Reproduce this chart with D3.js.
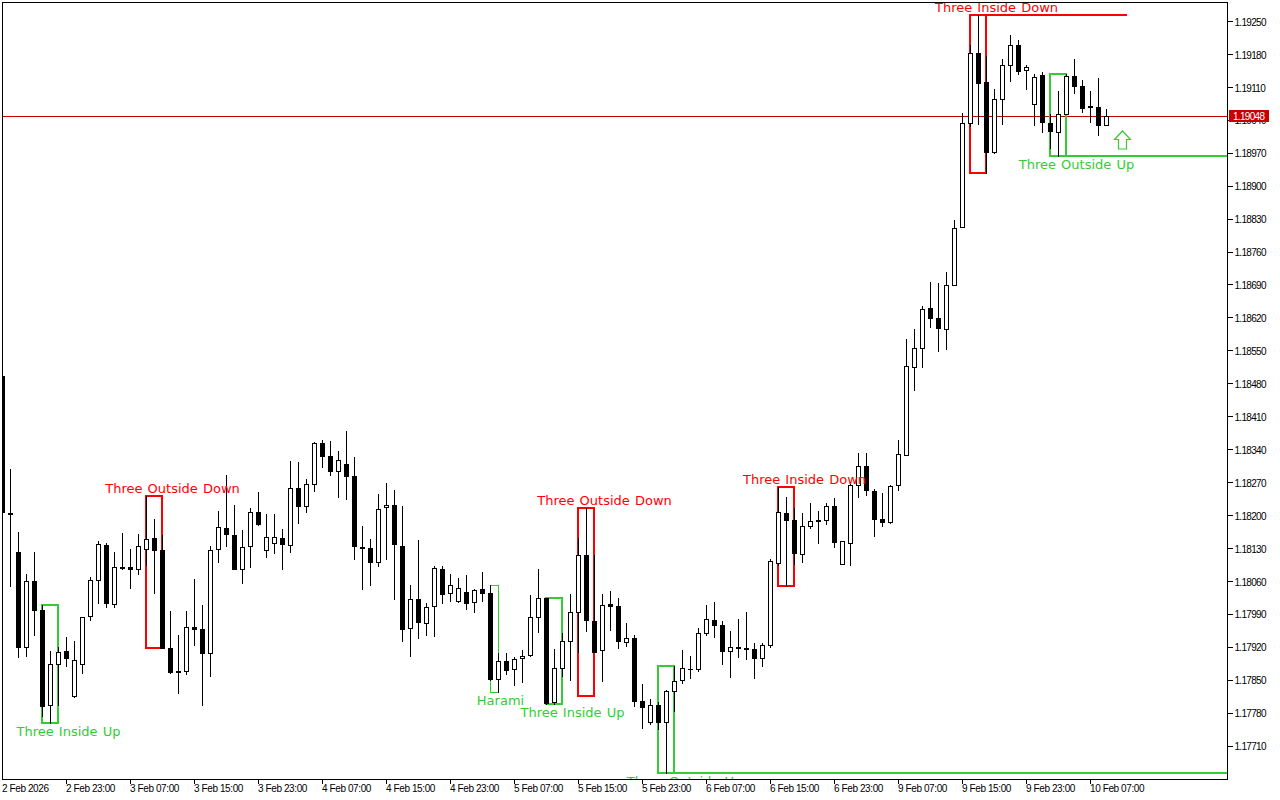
<!DOCTYPE html>
<html>
<head>
<meta charset="utf-8">
<style>
html,body{margin:0;padding:0;background:#fff;overflow:hidden}
svg{display:block}
.axis path,.axis line{stroke:#000;shape-rendering:crispEdges}
.axis text{fill:#000;font-family:"Liberation Sans",Arial,sans-serif;font-size:10px}
.axis.price text{letter-spacing:-0.7px}
.axis.time text{letter-spacing:-0.4px}
</style>
<script src="https://cdn.jsdelivr.net/npm/d3@7/dist/d3.min.js"></script>
</head>
<body>
<svg id="chart" width="1280" height="800"></svg>
<script>
const opens = [
1.18497,1.18205,1.18122,1.17920,1.18061,1.17999,1.17797,1.17884,1.17912,1.17816,
1.17884,1.17986,1.18063,1.18137,1.18012,1.18090,1.18090,1.18086,1.18129,1.18152,
1.18127,1.17918,1.17869,1.17869,1.17963,1.17959,1.17908,1.18129,1.18173,1.18158,
1.18086,1.18135,1.18207,1.18127,1.18141,1.18152,1.18137,1.18258,1.18220,1.18267,
1.18354,1.18326,1.18295,1.18309,1.18284,1.18133,1.18131,1.18101,1.18218,1.18222,
1.18135,1.17961,1.18022,1.17971,1.18007,1.18086,1.18035,1.18018,1.18037,1.18016,
1.18044,1.18035,1.17852,1.17891,1.17874,1.17897,1.17903,1.17984,1.18025,1.17803,
1.17876,1.17933,1.17995,1.18116,1.17976,1.17914,1.18012,1.18007,1.17931,1.17940,
1.17806,1.17761,1.17797,1.17761,1.17827,1.17850,1.17874,1.17874,1.17950,1.17978,
1.17967,1.17912,1.17920,1.17918,1.17916,1.17897,1.17925,1.18099,1.18205,1.18190,
1.18118,1.18178,1.18190,1.18190,1.18220,1.18097,1.18141,1.18265,1.18305,1.18252,
1.18192,1.18186,1.18265,1.18329,1.18516,1.18556,1.18641,1.18620,1.18596,1.18690,
1.18813,1.19034,1.19183,1.19121,1.18973,1.19085,1.19158,1.19200,1.19147,1.19075,
1.19136,1.19034,1.19015,1.19053,1.19134,1.19113,1.19070,1.19068,1.19030];
const highs = [
1.18497,1.18299,1.18165,1.18076,1.18122,1.18010,1.17912,1.17920,1.17942,1.17933,
1.17984,1.18069,1.18146,1.18141,1.18122,1.18163,1.18129,1.18161,1.18241,1.18192,
1.18158,1.17997,1.17946,1.17997,1.18065,1.18010,1.18135,1.18209,1.18286,1.18222,
1.18169,1.18216,1.18250,1.18203,1.18203,1.18171,1.18316,1.18314,1.18278,1.18356,
1.18360,1.18358,1.18337,1.18380,1.18324,1.18178,1.18150,1.18246,1.18269,1.18254,
1.18220,1.18052,1.18148,1.18014,1.18092,1.18092,1.18076,1.18067,1.18073,1.18044,
1.18080,1.18052,1.17908,1.17908,1.17899,1.17914,1.18031,1.18086,1.18025,1.17916,
1.17950,1.18033,1.18152,1.18216,1.18116,1.18033,1.18039,1.18025,1.17971,1.17946,
1.17842,1.17810,1.17803,1.17829,1.17880,1.17914,1.17901,1.17961,1.18010,1.18016,
1.17976,1.17954,1.17980,1.17995,1.17929,1.17929,1.18107,1.18261,1.18239,1.18216,
1.18205,1.18226,1.18209,1.18226,1.18237,1.18146,1.18267,1.18333,1.18333,1.18256,
1.18248,1.18265,1.18360,1.18575,1.18596,1.18645,1.18696,1.18694,1.18717,1.18828,
1.19055,1.19200,1.19264,1.19177,1.19107,1.19170,1.19221,1.19211,1.19158,1.19138,
1.19143,1.19053,1.19102,1.19138,1.19170,1.19126,1.19102,1.19130,1.19064];
const lows = [
1.18207,1.18050,1.17899,1.17901,1.17946,1.17774,1.17759,1.17797,1.17880,1.17814,
1.17865,1.17978,1.18014,1.18005,1.18005,1.18086,1.18046,1.18076,1.18095,1.18035,
1.17918,1.17865,1.17823,1.17863,1.17925,1.17797,1.17859,1.18101,1.18135,1.18086,
1.18056,1.18090,1.18180,1.18112,1.18120,1.18086,1.18122,1.18184,1.18207,1.18252,
1.18303,1.18286,1.18239,1.18235,1.18107,1.18044,1.18052,1.18092,1.18107,1.18022,
1.17933,1.17901,1.17940,1.17946,1.17944,1.18014,1.18018,1.18016,1.18001,1.17995,
1.18018,1.17850,1.17825,1.17863,1.17840,1.17846,1.17901,1.17952,1.17799,1.17799,
1.17859,1.17850,1.17910,1.17954,1.17910,1.17848,1.17957,1.17918,1.17922,1.17795,
1.17748,1.17757,1.17746,1.17653,1.17784,1.17844,1.17855,1.17869,1.17946,1.17942,
1.17884,1.17857,1.17899,1.17895,1.17855,1.17880,1.17920,1.18095,1.18050,1.18097,
1.18101,1.18173,1.18141,1.18182,1.18133,1.18097,1.18095,1.18239,1.18244,1.18156,
1.18178,1.18184,1.18254,1.18329,1.18467,1.18516,1.18601,1.18550,1.18554,1.18690,
1.18813,1.19028,1.19032,1.18928,1.18970,1.19032,1.19124,1.19138,1.19107,1.19030,
1.19015,1.18981,1.18964,1.19053,1.19098,1.19058,1.19036,1.19009,1.19030];
const closes = [
1.18207,1.18203,1.17920,1.18061,1.17999,1.17795,1.17884,1.17910,1.17897,1.17893,
1.17984,1.18063,1.18139,1.18014,1.18090,1.18088,1.18086,1.18135,1.18150,1.18127,
1.17918,1.17867,1.17867,1.17963,1.17959,1.17908,1.18127,1.18175,1.18161,1.18086,
1.18133,1.18207,1.18182,1.18154,1.18154,1.18139,1.18258,1.18220,1.18267,1.18354,
1.18326,1.18295,1.18318,1.18284,1.18135,1.18131,1.18101,1.18214,1.18222,1.18139,
1.17959,1.18022,1.17974,1.18005,1.18088,1.18033,1.18052,1.18046,1.18014,1.18042,
1.18035,1.17852,1.17891,1.17872,1.17895,1.17901,1.17984,1.18025,1.17801,1.17876,
1.17933,1.17995,1.18116,1.17978,1.17910,1.18010,1.18007,1.17933,1.17940,1.17806,
1.17793,1.17797,1.17761,1.17827,1.17848,1.17876,1.17874,1.17950,1.17980,1.17967,
1.17912,1.17920,1.17918,1.17916,1.17897,1.17925,1.18103,1.18207,1.18190,1.18120,
1.18178,1.18188,1.18188,1.18220,1.18144,1.18146,1.18265,1.18305,1.18254,1.18192,
1.18186,1.18263,1.18331,1.18518,1.18556,1.18639,1.18620,1.18598,1.18690,1.18811,
1.19034,1.19183,1.19119,1.18973,1.19085,1.19158,1.19200,1.19145,1.19153,1.19132,
1.19036,1.19017,1.19053,1.19134,1.19113,1.19066,1.19068,1.19030,1.19049];

const priceTicks = [1.1925,1.1918,1.1911,1.1904,1.1897,1.189,1.1883,1.1876,1.1869,1.1862,1.1855,1.1848,1.1841,1.1834,1.1827,1.182,1.1813,1.1806,1.1799,1.1792,1.1785,1.1778,1.1771];
const timeTickBars = [0,8,16,24,32,40,48,56,64,72,80,88,96,104,112,120,128,136];
const timeTickLabels = ["2 Feb 2026","2 Feb 23:00","3 Feb 07:00","3 Feb 15:00","3 Feb 23:00","4 Feb 07:00","4 Feb 15:00","4 Feb 23:00","5 Feb 07:00","5 Feb 15:00","5 Feb 23:00","6 Feb 07:00","6 Feb 15:00","6 Feb 23:00","9 Feb 07:00","9 Feb 15:00","9 Feb 23:00","10 Feb 07:00"];

const patternNames = ["Three Inside Up","Three Outside Down","Harami","Three Inside Up","Three Outside Down","Three Outside Up","Three Inside Down","Three Inside Down","Three Outside Up"];
const patternFirstBar = [5,18,61,68,72,82,97,121,131];
const patternLastBar = [7,20,62,70,74,84,99,123,133];
const patternHigh = [1.18010,1.18241,1.18052,1.18025,1.18216,1.17880,1.18261,1.19264,1.19138];
const patternLow = [1.17759,1.17918,1.17825,1.17799,1.17816,1.17653,1.18050,1.18928,1.18964];
const patternBullish = [true,false,true,true,false,true,false,false,true];

const levelPrices = [1.17653,1.19264,1.18964];
const levelFirstBar = [82,121,131];
const levelLastBar = [153,140.5,153];
const levelBullish = [true,false,true];

const bidPrice = 1.19048;
const signalBar = 140;
const signalPrice = 1.19017;

const GREEN = "#32cd32", RED = "#ff0000", BID = "#c80000";
const left = 2, right = 1227, top_ = 2, bottom = 779;
const svg = d3.select("#chart");

const x = d3.scaleLinear().domain([0,138]).range([2.5,1106.5]);
const y = d3.scaleLinear().domain([1.1925,1.1771]).range([21.5,746]);
const yr = p => Math.round(y(p));

svg.append("defs").append("clipPath").attr("id","plot").append("rect")
  .attr("x",left).attr("y",top_).attr("width",right-left).attr("height",bottom-top_);

const plot = svg.append("g").attr("clip-path","url(#plot)");

// bid line
plot.append("line").attr("x1",left).attr("x2",right)
  .attr("y1",Math.floor(y(bidPrice))+.5).attr("y2",Math.floor(y(bidPrice))+.5)
  .attr("stroke",BID).attr("shape-rendering","crispEdges");

// pattern boxes
const patterns = patternNames.map((n,i)=>({n,a:patternFirstBar[i],b:patternLastBar[i],h:patternHigh[i],l:patternLow[i],c:patternBullish[i]?GREEN:RED}));
plot.selectAll("rect.pat").data(patterns).join("rect").attr("class","pat")
  .attr("x",d=>Math.floor(x(d.a))+(d.b-d.a<2?.5:0))
  .attr("y",d=>yr(d.h)+(d.b-d.a<2?.5:0))
  .attr("width",d=>Math.floor(x(d.b))-Math.floor(x(d.a)))
  .attr("height",d=>yr(d.l)-yr(d.h))
  .attr("fill","none").attr("stroke",d=>d.c)
  .attr("stroke-width",d=>d.b-d.a<2?1:2)
  .attr("shape-rendering","crispEdges");

plot.selectAll("line.lvl").data(levelPrices).join("line").attr("class","lvl")
  .attr("x1",(d,i)=>x(levelFirstBar[i])).attr("x2",(d,i)=>x(levelLastBar[i]))
  .attr("y1",d=>yr(d)).attr("y2",d=>yr(d))
  .attr("stroke",(d,i)=>levelBullish[i]?GREEN:RED).attr("stroke-width",2)
  .attr("shape-rendering","crispEdges");

// candles
const bars = opens.map((o,i)=>({i,o,h:highs[i],l:lows[i],c:closes[i]}));
const g = plot.append("g").attr("shape-rendering","crispEdges");
g.selectAll("line.wick").data(bars).join("line").attr("class","wick")
  .attr("x1",d=>x(d.i)).attr("x2",d=>x(d.i))
  .attr("y1",d=>yr(d.h)).attr("y2",d=>yr(d.l)+1)
  .attr("stroke","#000");
g.selectAll("rect.body").data(bars).join("rect").attr("class","body")
  .each(function(d){
    const up = d.c>d.o, t = yr(Math.max(d.o,d.c)), b = yr(Math.min(d.o,d.c));
    const s = d3.select(this);
    if(up) s.attr("x",x(d.i)-2).attr("y",t+.5).attr("width",4).attr("height",b-t).attr("fill","#fff").attr("stroke","#000");
    else s.attr("x",x(d.i)-2.5).attr("y",t).attr("width",5).attr("height",b-t+1).attr("fill","#000");
  });

// pattern labels
plot.selectAll("text.pat").data(patterns).join("text").attr("class","pat")
  .attr("x",d=>(x(d.a)+x(d.b))/2+(d.b-d.a<2?6:18))
  .attr("y",d=>d.c===GREEN?yr(d.l)+13:yr(d.h)-3)
  .attr("text-anchor","middle")
  .attr("font-family","'DejaVu Sans',Verdana,sans-serif").attr("font-size","13px")
  .attr("word-spacing","1px")
  .attr("fill",d=>d.c).text(d=>d.n);

// signal arrow (hollow up arrow)
const ax = x(signalBar), ay = yr(signalPrice);
const arrowPath = d3.path();
arrowPath.moveTo(ax,ay);
arrowPath.lineTo(ax+8,ay+8.5);
arrowPath.lineTo(ax+4,ay+8.5);
arrowPath.lineTo(ax+4,ay+18);
arrowPath.lineTo(ax-4,ay+18);
arrowPath.lineTo(ax-4,ay+8.5);
arrowPath.lineTo(ax-8,ay+8.5);
arrowPath.closePath();
plot.append("path").attr("d",arrowPath.toString()).attr("fill","#fff").attr("stroke",GREEN).attr("stroke-width",1.2);

// frame
const frame = svg.append("g").attr("shape-rendering","crispEdges").attr("stroke","#000");
frame.append("line").attr("x1",left).attr("x2",right).attr("y1",top_+.5).attr("y2",top_+.5);
frame.append("line").attr("x1",left+.5).attr("x2",left+.5).attr("y1",top_).attr("y2",bottom);

// axes
const yAxis = d3.axisRight(y).tickValues(priceTicks).tickSize(5).tickPadding(2).offset(0)
  .tickFormat(d3.format(".5f"));
svg.append("g").attr("class","axis price").attr("transform",`translate(${right+.5},0)`).call(yAxis)
  .call(g=>g.select(".domain").attr("d",`M0,${top_}V${bottom+1}`))
  .call(g=>g.selectAll("text").attr("dy","0.42em"));
const xAxis = d3.axisBottom(x).tickValues(timeTickBars).tickSize(4).offset(0)
  .tickFormat((d,i)=>timeTickLabels[i]);
svg.append("g").attr("class","axis time").attr("transform",`translate(0,${bottom+.5})`).call(xAxis)
  .call(g=>g.select(".domain").attr("d",`M${left},0H${right}`))
  .call(g=>g.selectAll("text").attr("text-anchor","start").attr("x",-0.5).attr("y",5))
  .call(g=>g.selectAll(".tick line").filter(d=>d===0).remove());

// bid tag
const tag = svg.append("g");
tag.append("rect").attr("x",right+2).attr("y",Math.floor(y(bidPrice))-6).attr("width",40).attr("height",12).attr("fill",BID);
tag.append("text").attr("x",right+6).attr("y",Math.floor(y(bidPrice))+4)
  .attr("font-family","'Liberation Sans',Arial,sans-serif").attr("font-size","10px").attr("letter-spacing","-0.7px").attr("fill","#fff")
  .text(d3.format(".5f")(bidPrice));
</script>
</body>
</html>
